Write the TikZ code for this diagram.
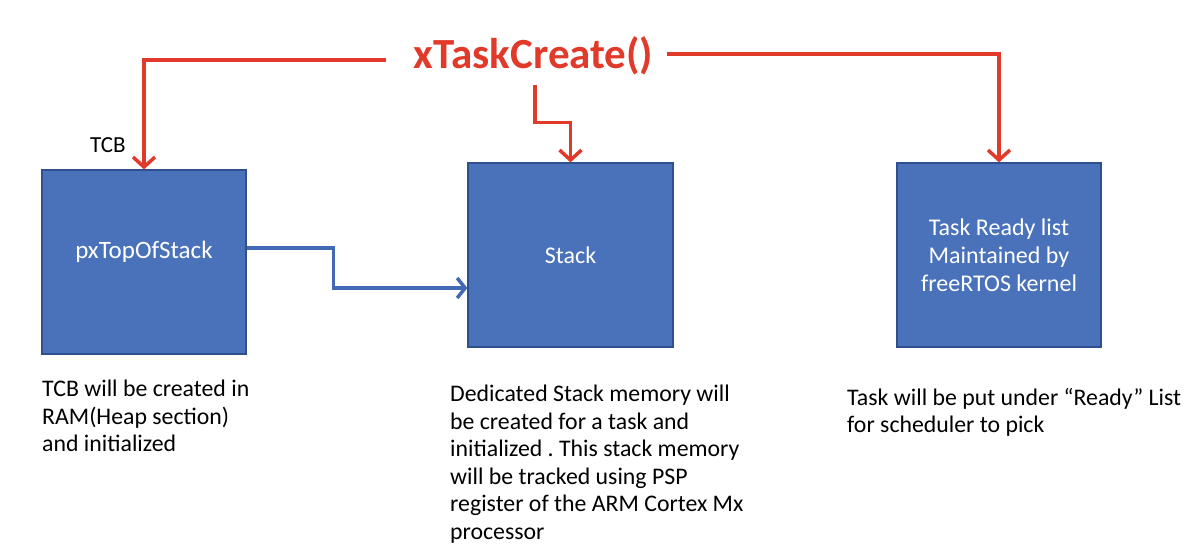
\documentclass[tikz,border=0pt]{standalone}
\usepackage{fontspec}
\setmainfont{Carlito}
\usetikzlibrary{arrows.meta,calc}
\definecolor{boxblue}{HTML}{4A72BA}
\definecolor{boxedge}{HTML}{2F4F8F}
\definecolor{arrred}{HTML}{E23A2A}
\definecolor{arrblue}{HTML}{4169B4}
\frenchspacing
\begin{document}
\begin{tikzpicture}[x=1pt,y=-1pt,
  box/.style={draw=boxedge, line width=1.2pt, fill=boxblue, minimum height=184pt, inner sep=0pt, text=white, font=\fontsize{24}{28}\selectfont, align=center},
  redarr/.style={draw=arrred, line width=3.5pt, -{Straight Barb[length=10pt,width=22pt]}},
  bluearr/.style={draw=arrblue, line width=3.5pt, -{Straight Barb[length=8pt,width=20pt]}},
  body/.style={font=\fontsize{23.8}{27.5}\selectfont, align=left, inner sep=0pt, anchor=north west}]
\useasboundingbox[fill=white] (0,0) rectangle (1200,556);

\node[font=\bfseries\fontsize{43}{48}\selectfont, text=arrred, inner sep=0pt] (title) at (533.5,56) {xTaskCreate()};

\node[box, minimum width=204pt, label={[text=white, font=\fontsize{25}{28}\selectfont, yshift=10pt]center:pxTopOfStack}] (tcb) at (144,262) {};
\node[box, minimum width=205pt] (stack) at (570.5,255) {Stack};
\node[box, minimum width=204pt] (ready) at (999,255) {Task Ready list\\Maintained by\\freeRTOS kernel};

\node[font=\fontsize{23}{27.5}\selectfont, inner sep=0pt, anchor=base west] (tcblabel) at (90,153) {TCB};

\draw[redarr] ([xshift=-27pt,yshift=-4pt]title.west) -| (tcb.north);
\draw[redarr] ([xshift=13pt,yshift=2pt]title.east) -| (ready.north);
\coordinate (mstart) at (535,85);
\draw[redarr] (mstart) |- ($(stack.north)+(0,-40)$) -- (stack.north);

\draw[bluearr] ([yshift=14pt]tcb.east) -- ++(87,0) |- ([yshift=-33pt]stack.west);

\node[body] (t1) at (42,380) {TCB will be created in\\RAM(Heap section)\\and initialized};
\node[body] (t2) at (450,385) {Dedicated Stack memory will\\be created for a task and\\initialized . This stack memory\\will be tracked using PSP\\register of the ARM Cortex Mx\\processor};
\node[body] (t3) at (847,388) {Task will be put under “Ready” List\\for scheduler to pick};
\end{tikzpicture}
\end{document}
